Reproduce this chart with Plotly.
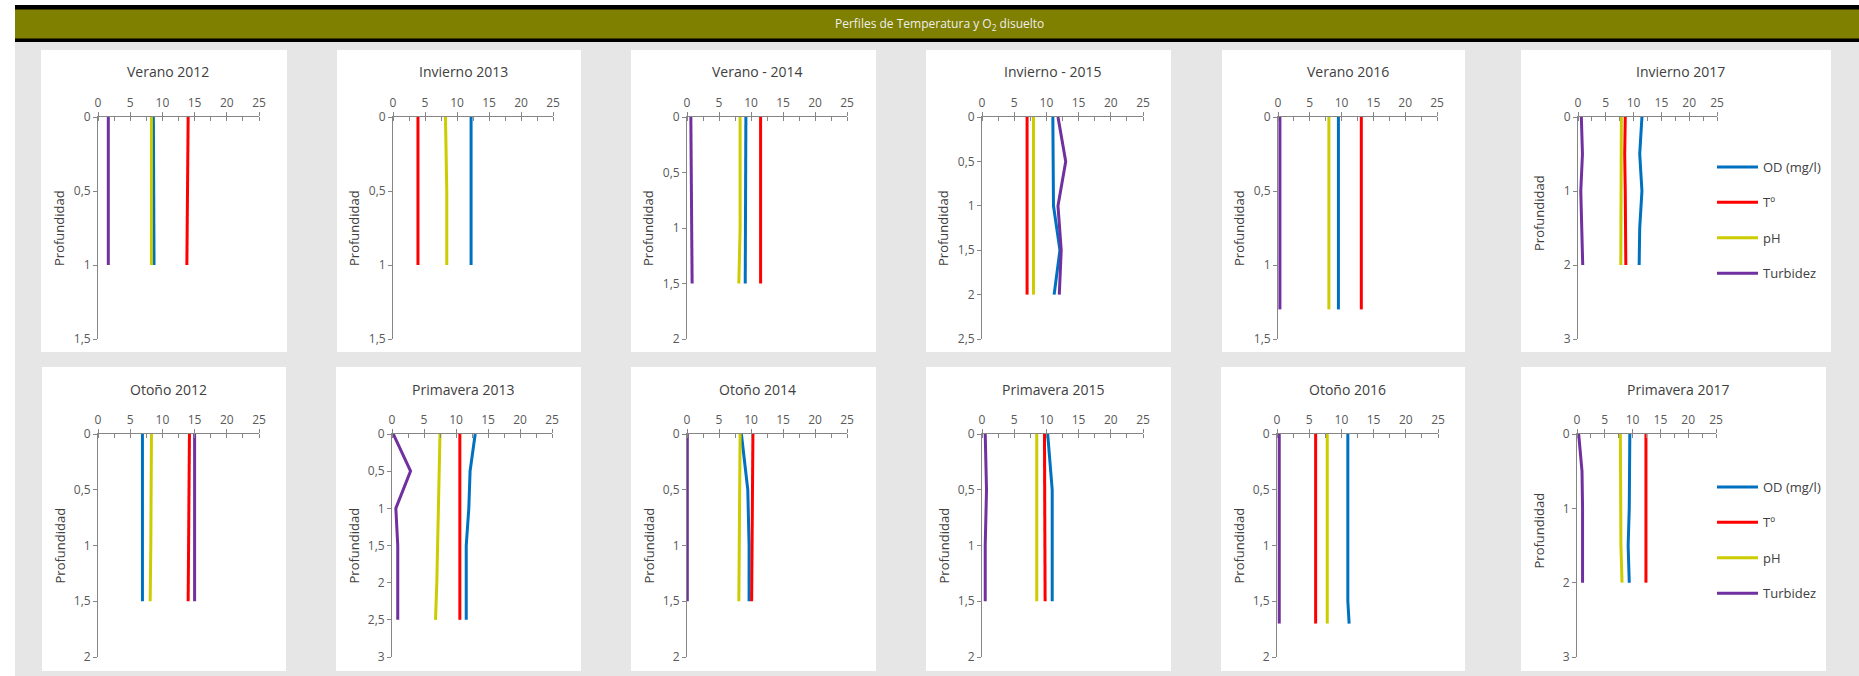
import plotly.graph_objects as go

W, H = 1859, 676

# ---------------- data ----------------
panel_titles = ["Verano 2012", "Invierno 2013", "Verano - 2014", "Invierno - 2015", "Verano 2016", "Invierno 2017",
                "Otoño 2012", "Primavera 2013", "Otoño 2014", "Primavera 2015", "Otoño 2016", "Primavera 2017"]
series_names = ["OD (mg/l)", "Tº", "pH", "Turbidez"]
x_tick_vals = [0, 5, 10, 15, 20, 25]
depth_axis_max = [1.5, 1.5, 2, 2.5, 1.5, 3, 2, 3, 2, 2, 2, 3]
depth_axis_step = [0.5, 0.5, 0.5, 0.5, 0.5, 1, 0.5, 0.5, 0.5, 0.5, 0.5, 1]

depth_ver12 = [0, 0.5, 1]
od_ver12 = [8.6, 8.6, 8.7]
temp_ver12 = [14.0, 13.9, 13.8]
ph_ver12 = [8.3, 8.3, 8.3]
turb_ver12 = [1.6, 1.6, 1.6]

depth_inv13 = [0, 0.5, 1]
od_inv13 = [12.2, 12.2, 12.2]
temp_inv13 = [3.9, 3.9, 3.9]
ph_inv13 = [8.2, 8.4, 8.4]
turb_inv13 = []

depth_ver14 = [0, 0.5, 1, 1.5]
od_ver14 = [9.2, 9.2, 9.2, 9.1]
temp_ver14 = [11.5, 11.5, 11.5, 11.5]
ph_ver14 = [8.3, 8.3, 8.3, 8.1]
turb_ver14 = [0.6, 0.7, 0.8, 0.8]

depth_inv15 = [0, 0.5, 1, 1.5, 2]
od_inv15 = [11.0, 11.0, 11.1, 12.1, 11.2]
temp_inv15 = [7.0, 7.0, 7.0, 7.0, 7.0]
ph_inv15 = [8.0, 8.0, 8.0, 8.0, 8.0]
turb_inv15 = [11.8, 13.0, 11.8, 12.3, 12.0]

depth_ver16 = [0, 0.5, 1, 1.3]
od_ver16 = [9.5, 9.5, 9.5, 9.5]
temp_ver16 = [13.1, 13.1, 13.1, 13.1]
ph_ver16 = [8.0, 8.0, 8.0, 8.0]
turb_ver16 = [0.3, 0.3, 0.3, 0.3]

depth_inv17 = [0, 0.5, 1, 1.5, 2]
od_inv17 = [11.5, 11.1, 11.5, 11.1, 11.0]
temp_inv17 = [8.5, 8.4, 8.5, 8.6, 8.6]
ph_inv17 = [7.8, 7.8, 7.8, 7.7, 7.7]
turb_inv17 = [0.6, 0.8, 0.5, 0.7, 0.85]

depth_oto12 = [0, 0.5, 1, 1.5]
od_oto12 = [6.9, 6.9, 6.9, 6.9]
temp_oto12 = [14.2, 14.1, 14.0, 14.0]
ph_oto12 = [8.3, 8.3, 8.2, 8.1]
turb_oto12 = [15.0, 15.0, 15.0, 15.0]

depth_pri13 = [0, 0.5, 1, 1.5, 2, 2.5]
od_pri13 = [13.0, 12.2, 12.0, 11.6, 11.6, 11.6]
temp_pri13 = [10.6, 10.6, 10.6, 10.6, 10.6, 10.6]
ph_pri13 = [7.5, 7.4, 7.2, 7.1, 7.0, 6.8]
turb_pri13 = [0.2, 2.9, 0.6, 0.9, 0.9, 0.9]

depth_oto14 = [0, 0.5, 1, 1.5]
od_oto14 = [8.5, 9.5, 9.7, 9.7]
temp_oto14 = [10.3, 10.2, 10.2, 10.1]
ph_oto14 = [8.3, 8.2, 8.2, 8.1]
turb_oto14 = [0.05, 0.05, 0.05, 0.05]

depth_pri15 = [0, 0.5, 1, 1.5]
od_pri15 = [10.2, 10.9, 10.9, 10.9]
temp_pri15 = [9.7, 9.7, 9.8, 9.8]
ph_pri15 = [8.5, 8.5, 8.5, 8.5]
turb_pri15 = [0.5, 0.7, 0.5, 0.5]

depth_oto16 = [0, 0.5, 1, 1.5, 1.7]
od_oto16 = [11.0, 11.0, 11.0, 11.0, 11.2]
temp_oto16 = [6.0, 6.0, 6.0, 6.0, 6.0]
ph_oto16 = [7.8, 7.8, 7.8, 7.8, 7.8]
turb_oto16 = [0.35, 0.35, 0.35, 0.35, 0.35]

depth_pri17 = [0, 0.5, 1, 1.5, 2]
od_pri17 = [9.5, 9.5, 9.4, 9.2, 9.4]
temp_pri17 = [12.4, 12.4, 12.4, 12.4, 12.4]
ph_pri17 = [7.8, 7.8, 7.9, 7.9, 8.1]
turb_pri17 = [0.3, 0.9, 1.0, 1.0, 1.0]

depths = [depth_ver12, depth_inv13, depth_ver14, depth_inv15, depth_ver16, depth_inv17,
          depth_oto12, depth_pri13, depth_oto14, depth_pri15, depth_oto16, depth_pri17]
od_all = [od_ver12, od_inv13, od_ver14, od_inv15, od_ver16, od_inv17,
          od_oto12, od_pri13, od_oto14, od_pri15, od_oto16, od_pri17]
temp_all = [temp_ver12, temp_inv13, temp_ver14, temp_inv15, temp_ver16, temp_inv17,
            temp_oto12, temp_pri13, temp_oto14, temp_pri15, temp_oto16, temp_pri17]
ph_all = [ph_ver12, ph_inv13, ph_ver14, ph_inv15, ph_ver16, ph_inv17,
          ph_oto12, ph_pri13, ph_oto14, ph_pri15, ph_oto16, ph_pri17]
turb_all = [turb_ver12, turb_inv13, turb_ver14, turb_inv15, turb_ver16, turb_inv17,
            turb_oto12, turb_pri13, turb_oto14, turb_pri15, turb_oto16, turb_pri17]

# ---------------- styling / layout (page pixels) ----------------
series_colors = ["#0070C0", "#FF0000", "#CCCC00", "#7030A0"]
FONT = "Open Sans"
BG_GRAY = "#E6E6E6"
AXIS_COLOR = "#868686"
TEXT_DARK = "#404040"
TICK_TEXT = "#595959"

plot_x = [(98, 259), (393, 553), (687, 847), (982, 1143), (1278, 1437), (1578, 1717),
          (98, 259), (392, 552), (687, 847), (982, 1143), (1277, 1438), (1577, 1716)]
plot_y_top = [(117, 339), (434, 657)]
panel_x = [(41, 287), (337, 581), (631, 876), (926, 1171), (1222, 1465), (1521, 1831),
           (42, 286), (336, 581), (631, 876), (926, 1171), (1221, 1465), (1521, 1826)]
panel_y = [(50, 352), (367, 671)]
title_y = [72, 389]


def px(x):
    return min(max(x / W, 0), 1)


def py(y):
    return min(max(1 - y / H, 0), 1)


fig = go.Figure()
layout_axes = {}
annotations = []
shapes = []

# background + header band
shapes.append(dict(type="rect", xref="paper", yref="paper", x0=px(15), x1=1, y0=0, y1=py(42),
                   fillcolor=BG_GRAY, line_width=0, layer="below"))
shapes.append(dict(type="rect", xref="paper", yref="paper", x0=px(15), x1=1, y0=py(42), y1=py(5),
                   fillcolor="#000000", line_width=0, layer="below"))
shapes.append(dict(type="rect", xref="paper", yref="paper", x0=px(15), x1=1, y0=py(38.5), y1=py(9.5),
                   fillcolor="#7F7F00", line_width=0, layer="below"))
annotations.append(dict(text="Perfiles de Temperatura y O<sub>2</sub> disuelto", xref="paper", yref="paper",
                        x=px(939), y=py(24), showarrow=False, xanchor="center", yanchor="middle",
                        font=dict(family=FONT, size=12, color="#EEEEEE")))

for i in range(12):
    row = 0 if i < 6 else 1
    n = i + 1
    xa = "xaxis" if n == 1 else f"xaxis{n}"
    ya = "yaxis" if n == 1 else f"yaxis{n}"
    xr = "x" if n == 1 else f"x{n}"
    yr = "y" if n == 1 else f"y{n}"
    x0, x1 = plot_x[i]
    y0, y1 = plot_y_top[row]

    # white chart card
    shapes.append(dict(type="rect", xref="paper", yref="paper",
                       x0=px(panel_x[i][0]), x1=px(panel_x[i][1]),
                       y0=py(panel_y[row][1]), y1=py(panel_y[row][0]),
                       fillcolor="white", line_width=0, layer="below"))

    layout_axes[xa] = dict(domain=[px(x0), px(x1)], range=[0, 25], side="top", anchor=yr,
                           tickvals=x_tick_vals, ticks="outside", ticklen=4, tickcolor=AXIS_COLOR,
                           showline=True, linecolor=AXIS_COLOR, linewidth=1, showgrid=False,
                           zeroline=False, fixedrange=True, automargin=False,
                           minor=dict(dtick=2.5, ticks="inside", ticklen=4, tickcolor=AXIS_COLOR, showgrid=False),
                           tickfont=dict(family=FONT, size=12, color=TICK_TEXT))
    layout_axes[ya] = dict(domain=[py(y1), py(y0)], range=[depth_axis_max[i], 0], anchor=xr,
                           dtick=depth_axis_step[i], tick0=0, ticks="outside", ticklen=4, tickcolor=AXIS_COLOR,
                           showline=True, linecolor=AXIS_COLOR, linewidth=1, showgrid=False,
                           zeroline=False, fixedrange=True, automargin=False,
                           tickfont=dict(family=FONT, size=12, color=TICK_TEXT))

    vals = [od_all[i], temp_all[i], ph_all[i], turb_all[i]]
    legend_id = None
    if i == 5:
        legend_id = "legend"
    elif i == 11:
        legend_id = "legend2"
    for s in range(4):
        if len(vals[s]) == 0:
            continue
        fig.add_trace(go.Scatter(
            x=vals[s], y=depths[i], mode="lines", name=series_names[s],
            line=dict(color=series_colors[s], width=3),
            xaxis=xr, yaxis=yr,
            showlegend=legend_id is not None,
            legend=legend_id if legend_id else "legend",
            legendgroup=f"{series_names[s]}_{i}",
            hoverinfo="x+y+name"))

    cx = (panel_x[i][0] + panel_x[i][1]) / 2 + 4
    annotations.append(dict(text=panel_titles[i], xref="paper", yref="paper", x=px(cx), y=py(title_y[row]),
                            showarrow=False, xanchor="center", yanchor="middle",
                            font=dict(family=FONT, size=14, color=TEXT_DARK)))
    ycenter = (y0 + y1) / 2
    if i in (5, 11):
        ycenter -= 15
    annotations.append(dict(text="Profundidad", xref="paper", yref="paper", x=px(x0 - 39), y=py(ycenter),
                            showarrow=False, xanchor="center", yanchor="middle", textangle=-90,
                            font=dict(family=FONT, size=13, color=TEXT_DARK)))

legend_common = dict(xanchor="left", yanchor="top", bgcolor="rgba(0,0,0,0)", borderwidth=0,
                     font=dict(family=FONT, size=13, color=TEXT_DARK), itemwidth=41,
                     traceorder="grouped", tracegroupgap=15.5, itemclick=False, itemdoubleclick=False)

fig.update_layout(
    width=W, height=H,
    margin=dict(l=0, r=0, t=0, b=0, pad=0, autoexpand=False),
    paper_bgcolor="white",
    plot_bgcolor="rgba(0,0,0,0)",
    separators=",.",
    showlegend=True,
    legend=dict(x=px(1712), y=py(152), **legend_common),
    legend2=dict(x=px(1712), y=py(472), **legend_common),
    shapes=shapes,
    annotations=annotations,
    **layout_axes,
)

pin_script = ("var gd=document.getElementById('{plot_id}');"
              "document.documentElement.style.overflow='hidden';"
              "document.body.style.margin='0';document.body.style.overflow='hidden';"
              "gd.style.position='fixed';gd.style.left='0px';gd.style.top='0px';")

fig.write_html("out.html", config={"displayModeBar": False}, post_script=pin_script)
